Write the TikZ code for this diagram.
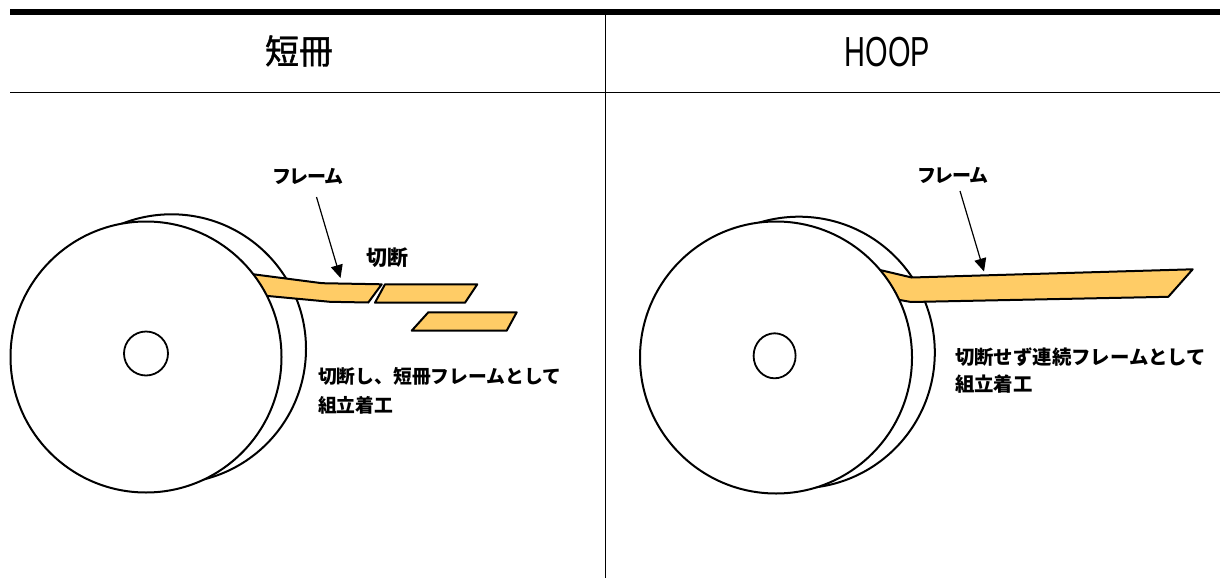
\documentclass[tikz,border=0pt]{standalone}
\usepackage{fontspec}
\setmainfont{Liberation Sans}
\newfontfamily\jp{Noto Sans CJK JP}
\newfontfamily\jpm{Noto Sans CJK JP}[FakeBold=1.2]
\newfontfamily\jpp{Noto Sans CJK JP}[RawFeature=+palt]
\usetikzlibrary{arrows.meta}
\definecolor{strip}{RGB}{255,204,102}
\tikzset{
  roll/.style={draw=black, line width=2pt, fill=white},
  hub/.style={draw=black, line width=1.8pt, fill=white},
  band/.style={draw=black, line width=2pt, fill=strip, line join=round},
  rule/.style={draw=black, line width=1.3pt},
  pointer/.style={draw=black, line width=1.2pt, -{Triangle[length=13pt,width=12pt]}},
  lbl/.style={inner sep=0pt, outer sep=0pt, text=black},
}
\begin{document}
\begin{tikzpicture}[x=1pt, y=-1pt]
\useasboundingbox (0,0) rectangle (1220,578);
% table rules
\draw[line width=6pt] (10,12) -- (1220,12);
\draw[rule] (10,92.5) -- (1220,92.5);
\draw[rule] (605.5,15) -- (605.5,578);
% headers
\node[lbl] (h1) at (299,51) {\jpm\fontsize{34}{40}\selectfont 短冊};
\node[lbl] (h2) at (887.5,52) {\scalebox{0.69}[1]{\fontsize{42}{48}\selectfont HOOP}};

% ---------- left panel ----------
\draw[roll] (171.5,348.8) circle[radius=134.5];
\draw[band] (230,271.3) -- (255,274.5) -- (322,283.2) -- (381.7,284.3) -- (368.3,302.5) -- (330,301.8) -- (268,296) -- (230,292.3) -- cycle;
\draw[roll] (146,357) circle[radius=135.5];
\draw[hub] (146,353.5) circle[radius=22];
\draw[band] (385,284.3) -- (477.3,284.3) -- (465,302.7) -- (375,302.7) -- cycle;
\draw[band] (428.3,312.3) -- (516.7,312.3) -- (506.7,330.7) -- (411.7,330.7) -- cycle;
\node[lbl] (f1) at (308.5,176.7) {\jpp\bfseries\fontsize{19}{22}\selectfont フレーム};
\coordinate (f1s) at (316.5,197);
\coordinate (f1t) at (340.5,278);
\draw[pointer] (f1s) -- (f1t);
\node[lbl] (c1) at (387.5,258) {\jp\bfseries\fontsize{21}{24}\selectfont 切断};
\node[lbl, anchor=west] (t1a) at (318,376) {\jp\bfseries\fontsize{18.8}{22}\selectfont 切断し、短冊フレームとして};
\node[lbl, anchor=west] (t1b) at (318,405) {\jp\bfseries\fontsize{18.8}{22}\selectfont 組立着工};

% ---------- right panel ----------
\draw[roll] (799,352.5) circle[radius=135.8];
\draw[band] (860,267) -- (880,270) -- (911.7,277.5) -- (1192.7,269.3) -- (1168.3,296.8) -- (911,302) -- (897,299.5) -- (860,296) -- cycle;
\draw[roll] (776,357.5) circle[radius=136];
\draw[hub] (774.6,355.8) ellipse[x radius=21, y radius=22.5];
\node[lbl] (f2) at (953,175) {\jpp\bfseries\fontsize{19}{22}\selectfont フレーム};
\coordinate (f2s) at (960,191);
\coordinate (f2t) at (984,271.5);
\draw[pointer] (f2s) -- (f2t);
\node[lbl, anchor=west] (t2a) at (955,357.5) {\jp\bfseries\fontsize{19.4}{22}\selectfont 切断せず連続フレームとして};
\node[lbl, anchor=west] (t2b) at (955,384) {\jp\bfseries\fontsize{19.4}{22}\selectfont 組立着工};
\end{tikzpicture}
\end{document}
